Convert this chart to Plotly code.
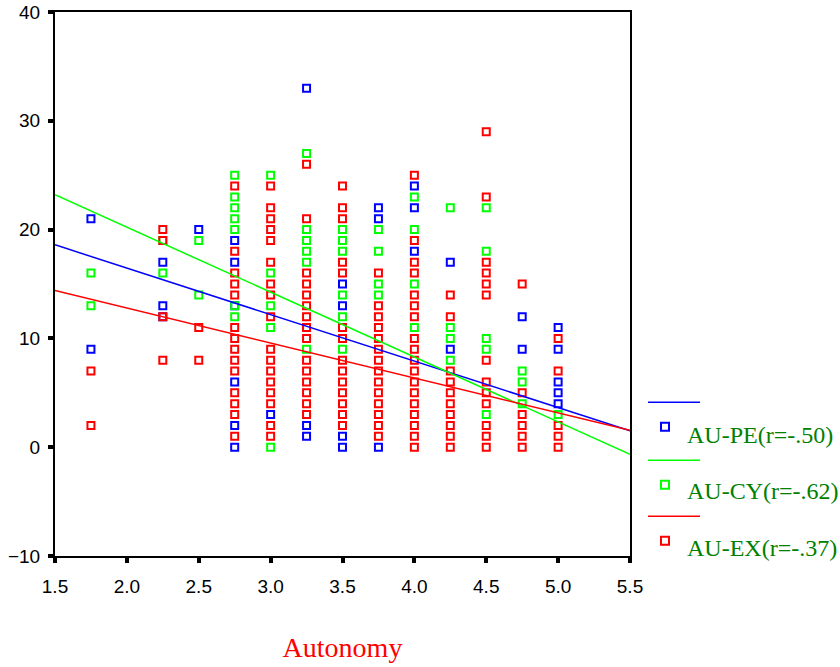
import plotly.graph_objects as go

# ---- data ----
pe_x = [1.75, 1.75, 2.25, 2.25, 2.25, 2.5,
        2.75, 2.75, 2.75, 2.75, 2.75, 2.75, 3.0,
        3.25, 3.25, 3.25, 3.5, 3.5, 3.5, 3.5,
        3.75, 3.75, 3.75, 4.0, 4.0, 4.0, 4.25, 4.25,
        4.75, 4.75, 5.0, 5.0, 5.0, 5.0, 5.0]
pe_y = [21, 9, 17, 13, 12, 20,
        19, 17, 13, 6, 2, 0, 3,
        33, 2, 1, 15, 13, 1, 0,
        22, 21, 0, 24, 22, 18, 17, 9,
        12, 9, 11, 9, 6, 5, 4]

cy_x = [1.75, 1.75, 2.25, 2.25, 2.5, 2.5,
        2.75, 2.75, 2.75, 2.75, 2.75, 2.75, 2.75,
        3.0, 3.0, 3.0, 3.0, 3.0,
        3.25, 3.25, 3.25, 3.25, 3.25, 3.25,
        3.5, 3.5, 3.5, 3.5, 3.5, 3.5,
        3.75, 3.75, 3.75, 3.75,
        4.0, 4.0, 4.0, 4.0,
        4.25, 4.25, 4.25, 4.25,
        4.5, 4.5, 4.5, 4.5, 4.5,
        4.75, 4.75, 4.75, 5.0]
cy_y = [16, 13, 19, 16, 19, 14,
        25, 23, 22, 21, 20, 13, 12,
        25, 16, 13, 11, 0,
        27, 20, 19, 18, 17, 9,
        20, 19, 18, 14, 12, 9,
        20, 18, 15, 14,
        23, 20, 15, 11,
        22, 11, 10, 8,
        22, 18, 10, 9, 3,
        7, 6, 4, 3]

ex_cols = [1.75, 2.25, 2.5, 2.75, 3.0, 3.25, 3.5, 3.75, 4.0, 4.25, 4.5, 4.75, 5.0]
ex_vals = [
    [7, 2],
    [20, 19, 12, 8],
    [11, 8],
    [24, 18, 16, 15, 14, 11, 10, 9, 8, 7, 5, 4, 3, 1],
    [24, 22, 21, 20, 19, 17, 15, 14, 12, 9, 8, 7, 6, 5, 4, 2, 1],
    [26, 21, 16, 15, 14, 13, 12, 11, 10, 8, 7, 6, 5, 4, 3],
    [24, 22, 21, 17, 16, 11, 10, 8, 7, 6, 5, 4, 3, 2],
    [16, 13, 12, 11, 10, 9, 8, 7, 6, 5, 4, 3, 2, 1],
    [25, 19, 17, 16, 14, 13, 12, 10, 9, 8, 7, 6, 5, 4, 3, 2, 1, 0],
    [14, 12, 7, 6, 5, 4, 3, 2, 1, 0],
    [29, 23, 17, 16, 15, 14, 8, 6, 5, 4, 2, 1, 0],
    [15, 5, 3, 2, 1, 0],
    [10, 7, 2, 1, 0],
]
ex_x = [c for c, vs in zip(ex_cols, ex_vals) for _ in vs]
ex_y = [v for vs in ex_vals for v in vs]

# fitted lines (end points)
fit_x = [1.5, 5.5]
pe_fit = [18.6, 1.5]
cy_fit = [23.2, -0.65]
ex_fit = [14.4, 1.55]

x_ticks = [1.5, 2.0, 2.5, 3.0, 3.5, 4.0, 4.5, 5.0, 5.5]
y_ticks = [-10, 0, 10, 20, 30, 40]

names = ["AU-PE(r=-.50)", "AU-CY(r=-.62)", "AU-EX(r=-.37)"]
colors = ["#0000ff", "#00ff00", "#ff0000"]
legend_color = "#008000"

fig = go.Figure()
for i, (xs, ys) in enumerate([(pe_x, pe_y), (cy_x, cy_y), (ex_x, ex_y)]):
    fig.add_trace(go.Scatter(
        x=xs, y=ys, mode="markers", name=names[i], showlegend=False,
        marker=dict(symbol="square-open", size=7, color=colors[i],
                    line=dict(width=2, color=colors[i])),
    ))
for i, fy in enumerate([pe_fit, cy_fit, ex_fit]):
    fig.add_trace(go.Scatter(
        x=fit_x, y=fy, mode="lines", showlegend=False,
        line=dict(color=colors[i], width=1.5),
    ))

# ---- legend drawn beside the plot (plot area: x 55..630 px, y 12..556 px) ----
PX0, PW, PY1, PH = 55, 575, 556, 544
def px(x):
    return (x - PX0) / PW
def py(y):
    return (PY1 - y) / PH

line_rows = [402.3, 460.3, 516.3]
marker_rows = [426.7, 484.7, 540.7]
text_rows = [434.5, 490.5, 548.0]
for i in range(3):
    fig.add_shape(type="line", xref="paper", yref="paper",
                  x0=px(648), x1=px(700), y0=py(line_rows[i]), y1=py(line_rows[i]),
                  line=dict(color=colors[i], width=1.5))
    fig.add_shape(type="rect", xref="paper", yref="paper",
                  xsizemode="pixel", ysizemode="pixel",
                  xanchor=px(665), yanchor=py(marker_rows[i]),
                  x0=-4, x1=4, y0=-4, y1=4,
                  line=dict(color=colors[i], width=2), fillcolor="rgba(0,0,0,0)")
    fig.add_annotation(xref="paper", yref="paper", x=px(685), y=py(text_rows[i]),
                       xanchor="left", yanchor="middle", showarrow=False,
                       text=names[i],
                       font=dict(family="Liberation Serif, Times New Roman", size=24,
                                 color=legend_color))

axis_common = dict(
    showline=True, linecolor="black", linewidth=2, mirror=True,
    ticks="outside", ticklen=5, tickwidth=4, tickcolor="black",
    showgrid=False, zeroline=False,
    tickfont=dict(family="Liberation Sans, Arial", size=19, color="black"),
)

fig.update_xaxes(range=[1.5, 5.5], tickvals=x_ticks,
                 tickformat=".1f", ticklabelstandoff=7,
                 title=dict(text="Autonomy", standoff=42,
                            font=dict(family="Liberation Serif, Times New Roman", size=28, color="red")),
                 **axis_common)
fig.update_yaxes(range=[-10, 40], tickvals=y_ticks, ticklabelstandoff=4,
                 **axis_common)

fig.update_layout(
    width=840, height=667,
    margin=dict(l=55, r=210, t=12, b=111, autoexpand=False),
    paper_bgcolor="white", plot_bgcolor="white",
    showlegend=False,
)

fig.write_html("out.html")
